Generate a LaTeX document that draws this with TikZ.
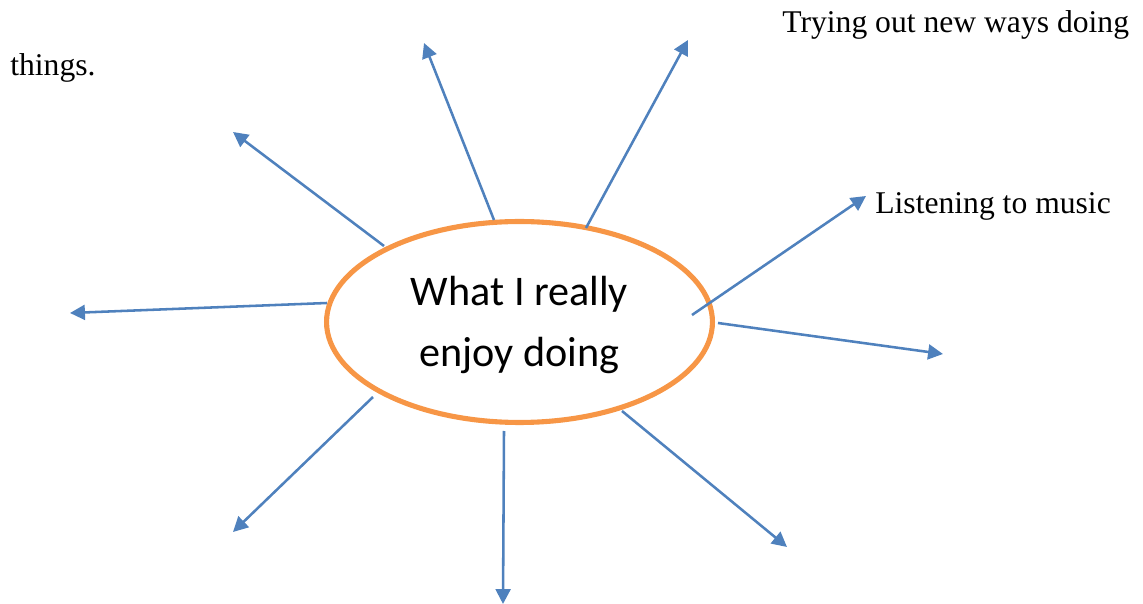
\documentclass[tikz,border=0pt]{standalone}
\usepackage{fontspec}
\setmainfont{Liberation Serif}
\newfontfamily\calibrifont{Carlito}
\usetikzlibrary{arrows.meta,shapes.geometric}
\definecolor{offblue}{RGB}{79,129,189}
\definecolor{offorange}{RGB}{247,150,70}
\tikzset{
  conn/.style={draw=offblue, line width=1.45pt, -{Triangle[length=8.5pt,width=8.5pt]}},
  lbl/.style={anchor=base west, inner sep=0pt, font=\fontsize{18}{22}\selectfont},
  hub/.style={ellipse, draw=offorange, line width=2.9pt, minimum width=7.72cm, minimum height=4.02cm, inner sep=0pt, align=center, font=\calibrifont\fontsize{24}{35}\selectfont}
}
\begin{document}
\begin{tikzpicture}[x=0.02cm,y=-0.02cm]
\useasboundingbox (0,0) rectangle (1143,604);
\node[hub] (hub) at (519.5,322) {\rule{0pt}{20pt}What I really\\enjoy doing};
\node[lbl] (t1) at (782,33) {Trying out new ways doing};
\node[lbl] (t2) at (10,76) {things.};
\node[lbl] (t3) at (875,214) {Listening to music};
% start points
\coordinate (s1) at (384,246);
\coordinate (s2) at (494,220);
\coordinate (s3) at (586,228);
\coordinate (s4) at (692,315);
\coordinate (s5) at (718,323);
\coordinate (s6) at (622,411);
\coordinate (s7) at (504,431);
\coordinate (s8) at (373,397);
\coordinate (s9) at (327,303);
% end points
\coordinate (e1) at (233,132);
\coordinate (e2) at (424,43);
\coordinate (e3) at (688,40);
\coordinate (e4) at (866,196);
\coordinate (e5) at (943,354);
\coordinate (e6) at (787,547);
\coordinate (e7) at (503,604);
\coordinate (e8) at (233,532);
\coordinate (e9) at (70,313);
\foreach \i in {1,...,9} {\draw[conn] (s\i) -- (e\i);}
\end{tikzpicture}
\end{document}
